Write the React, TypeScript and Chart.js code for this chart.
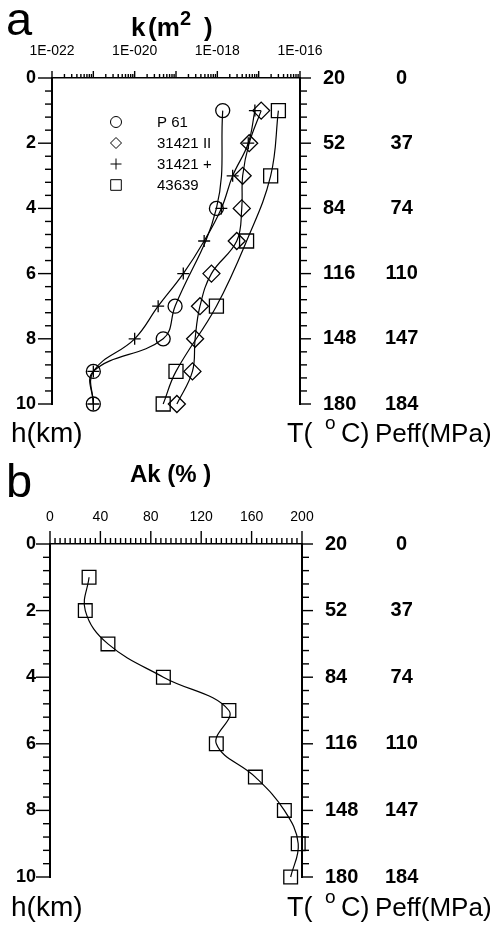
import React, { useEffect, useRef } from 'react';
import { Chart, registerables } from 'chart.js';

Chart.register(...registerables);

const FAMILY = '"Liberation Sans", Arial, Helvetica, sans-serif';

// ---------- panel a : permeability k (m^2) vs depth ----------
const depthP61 = [1, 4, 7, 8, 9, 10];
const kP61 = [1.35e-18, 9.5e-19, 9.5e-20, 4.9e-20, 1.0e-21, 1.0e-21];

const depth31421II = [1, 2, 3, 4, 5, 6, 7, 8, 9, 10];
const k31421II = [1.15e-17, 5.9e-18, 4.1e-18, 3.9e-18, 2.95e-18, 7.2e-19, 3.8e-19, 2.9e-19, 2.5e-19, 1.05e-19];

const depth31421Plus = [1, 2, 3, 4, 5, 6, 7, 8, 9, 10];
const k31421Plus = [8.1e-18, 5.6e-18, 2.35e-18, 1.25e-18, 4.8e-19, 1.5e-19, 3.7e-20, 1.0e-20, 1.0e-21, 1.0e-21];

const depth43639 = [1, 3, 5, 7, 9, 10];
const k43639 = [3.0e-17, 1.95e-17, 5.1e-18, 9.5e-19, 1.0e-19, 4.9e-20];

const seriesLabels = ['P 61', '31421 II', '31421 +', '43639'];

// ---------- panel b : Ak (%) vs depth ----------
const depthAk = [1, 2, 3, 4, 5, 6, 7, 8, 9, 10];
const akValues = [31, 28, 46, 90, 142, 132, 163, 186, 197, 191];

// ---------- axis tick labels ----------
const depthTicks = [0, 2, 4, 6, 8, 10];
const tempLabels = ['20', '52', '84', '116', '148', '180'];
const peffLabels = ['0', '37', '74', '110', '147', '184'];
const kDecades = [-22, -21, -20, -19, -18, -17, -16];
const kLabelDecades = [-22, -20, -18, -16];
const akMajorTicks = [0, 40, 80, 120, 160, 200];

const toPoints = (xs: number[], ys: number[]) => xs.map((x, i) => ({ x, y: ys[i] }));

const near = (a: number, b: number) => Math.abs(a - b) < 1e-6;
const isDepthMajor = (v: number) => depthTicks.some((d) => near(d, v));
const isDecade = (v: number) => {
  const l = Math.log10(v);
  return Math.abs(l - Math.round(l)) < 1e-6;
};

type TickSpec = { id: string; side: 'top' | 'left' | 'right'; major: (v: number) => boolean; majorLen: number; minorLen: number };

function tickPlugin(specs: TickSpec[]) {
  return {
    id: 'customTicks',
    afterDraw(chart: any) {
      const ctx = chart.ctx;
      ctx.save();
      ctx.strokeStyle = '#000';
      ctx.lineWidth = 1.4;
      for (const s of specs) {
        const scale = chart.scales[s.id];
        for (const t of scale.ticks) {
          const p = scale.getPixelForValue(t.value);
          const len = s.major(t.value) ? s.majorLen : s.minorLen;
          ctx.beginPath();
          if (s.side === 'top') {
            ctx.moveTo(p, scale.bottom);
            ctx.lineTo(p, scale.bottom - len);
          } else if (s.side === 'left') {
            ctx.moveTo(scale.right, p);
            ctx.lineTo(scale.right - len, p);
          } else {
            ctx.moveTo(scale.left, p);
            ctx.lineTo(scale.left + len, p);
          }
          ctx.stroke();
        }
      }
      ctx.restore();
    },
  };
}

type TextItem = { t: string; x: number; y: number; font: string };

function textPlugin(items: TextItem[]) {
  return {
    id: 'texts',
    afterDraw(chart: any) {
      const ctx = chart.ctx;
      ctx.save();
      ctx.fillStyle = '#000';
      ctx.textAlign = 'left';
      ctx.textBaseline = 'alphabetic';
      for (const it of items) {
        ctx.font = `${it.font} ${FAMILY}`;
        ctx.fillText(it.t, it.x, it.y);
      }
      ctx.restore();
    },
  };
}

function drawShape(ctx: CanvasRenderingContext2D, style: string, x: number, y: number, r: number) {
  ctx.beginPath();
  if (style === 'circle') {
    ctx.arc(x, y, r, 0, Math.PI * 2);
  } else if (style === 'rectRot') {
    ctx.moveTo(x - r, y);
    ctx.lineTo(x, y - r);
    ctx.lineTo(x + r, y);
    ctx.lineTo(x, y + r);
    ctx.closePath();
  } else if (style === 'cross') {
    ctx.moveTo(x - r, y);
    ctx.lineTo(x + r, y);
    ctx.moveTo(x, y - r);
    ctx.lineTo(x, y + r);
  } else {
    ctx.rect(x - r, y - r, 2 * r, 2 * r);
  }
  ctx.stroke();
}

const legendPlugin = {
  id: 'innerLegend',
  afterDraw(chart: any) {
    const ctx = chart.ctx as CanvasRenderingContext2D;
    const sizes: Record<string, number> = { circle: 5.5, rectRot: 5.5, cross: 5.5, rect: 5.3 };
    ctx.save();
    ctx.strokeStyle = '#000';
    ctx.fillStyle = '#000';
    ctx.lineWidth = 1;
    ctx.font = `15px ${FAMILY}`;
    ctx.textBaseline = 'middle';
    chart.data.datasets.forEach((ds: any, i: number) => {
      const y = 122 + i * 21;
      drawShape(ctx, ds.pointStyle, 116, y, sizes[ds.pointStyle] || 5);
      ctx.fillText(ds.label, 157, y + 1);
    });
    ctx.restore();
  },
};

const leftFont = { family: FAMILY, size: 18, weight: 'bold' as const };
const rightFont = { family: FAMILY, size: 20, weight: 'bold' as const };

function depthScales(leftW: number, tW: number, pW: number) {
  return {
    y: {
      type: 'linear' as const,
      position: 'left' as const,
      reverse: true,
      min: 0,
      max: 10,
      grid: { display: false, drawTicks: false },
      border: { display: true, color: '#000', width: 2 },
      ticks: {
        stepSize: 0.4,
        autoSkip: false,
        padding: leftW - 36,
        color: '#000',
        font: leftFont,
        callback: (v: any) => (isDepthMajor(Number(v)) ? String(Math.round(Number(v))) : ''),
      },
      afterFit: (s: any) => {
        s.width = leftW;
      },
    },
    yT: {
      type: 'linear' as const,
      position: 'right' as const,
      weight: 0,
      reverse: true,
      min: 0,
      max: 10,
      grid: { display: false, drawTicks: false },
      border: { display: true, color: '#000', width: 2 },
      ticks: {
        stepSize: 0.4,
        autoSkip: false,
        padding: 23,
        color: '#000',
        font: rightFont,
        callback: (v: any) => {
          const i = depthTicks.findIndex((d) => near(d, Number(v)));
          return i >= 0 ? tempLabels[i] : '';
        },
      },
      afterFit: (s: any) => {
        s.width = tW;
      },
    },
    yP: {
      type: 'linear' as const,
      position: 'right' as const,
      weight: 1,
      reverse: true,
      min: 0,
      max: 10,
      grid: { display: false, drawTicks: false },
      border: { display: false },
      ticks: {
        stepSize: 2,
        autoSkip: false,
        padding: 25,
        crossAlign: 'center' as const,
        color: '#000',
        font: rightFont,
        callback: (v: any) => {
          const i = depthTicks.findIndex((d) => near(d, Number(v)));
          return i >= 0 ? peffLabels[i] : '';
        },
      },
      afterFit: (s: any) => {
        s.width = pW;
      },
    },
  };
}

const lineCommon = {
  borderColor: '#000',
  borderWidth: 1.2,
  pointBorderColor: '#000',
  pointBackgroundColor: 'rgba(0,0,0,0)',
  pointBorderWidth: 1.3,
  tension: 0.4,
  fill: false,
  clip: false as any,
};

function bottomTexts(base: number): TextItem[] {
  return [
    { t: 'h(km)', x: 11, y: base, font: '28px' },
    { t: 'T(', x: 287, y: base, font: '27px' },
    { t: 'o', x: 325, y: base - 13, font: '19px' },
    { t: 'C)', x: 341, y: base, font: '27px' },
    { t: 'Peff(MPa)', x: 375, y: base, font: '26px' },
  ];
}

function PanelA() {
  const ref = useRef<HTMLCanvasElement>(null);
  useEffect(() => {
    if (!ref.current) return;
    const styles = ['circle', 'rectRot', 'cross', 'rect'];
    const radii = [7, 8.5, 6, 9.9];
    const xs = [kP61, k31421II, k31421Plus, k43639];
    const ys = [depthP61, depth31421II, depth31421Plus, depth43639];
    const chart = new Chart(ref.current, {
      type: 'line',
      data: {
        datasets: seriesLabels.map((label, i) => ({
          ...lineCommon,
          label,
          data: toPoints(xs[i], ys[i]),
          pointStyle: styles[i],
          pointRadius: radii[i],
          pointHoverRadius: radii[i],
        })) as any,
      },
      options: {
        animation: false,
        responsive: false,
        events: [],
        layout: { padding: { left: 0, right: 0, top: 0, bottom: 56 } },
        plugins: { legend: { display: false }, title: { display: false }, tooltip: { enabled: false } },
        scales: {
          x: {
            type: 'logarithmic',
            position: 'top',
            min: 1e-22,
            max: 1e-16,
            grid: { display: false, drawTicks: false },
            border: { display: true, color: '#000', width: 1.5 },
            ticks: {
              autoSkip: false,
              maxRotation: 0,
              minRotation: 0,
              padding: 18,
              color: '#000',
              font: { family: FAMILY, size: 14 },
              callback: (v: any) => {
                const val = Number(v);
                if (!isDecade(val)) return '';
                const e = Math.round(Math.log10(val));
                return kLabelDecades.includes(e) ? '1E-' + String(Math.abs(e)).padStart(3, '0') : '';
              },
            },
            afterBuildTicks: (s: any) => {
              const t: { value: number }[] = [];
              for (let i = 0; i < kDecades.length - 1; i++) {
                for (let m = 1; m <= 9; m++) t.push({ value: Number(`${m}e${kDecades[i]}`) });
              }
              t.push({ value: Number(`1e${kDecades[kDecades.length - 1]}`) });
              s.ticks = t;
            },
            afterFit: (s: any) => {
              s.height = 78;
            },
          },
          ...depthScales(52, 60, 137),
        } as any,
      },
      plugins: [
        tickPlugin([
          { id: 'x', side: 'top', major: isDecade, majorLen: 7, minorLen: 4 },
          { id: 'y', side: 'left', major: isDepthMajor, majorLen: 14, minorLen: 7 },
          { id: 'yT', side: 'right', major: isDepthMajor, majorLen: 11, minorLen: 7 },
        ]),
        legendPlugin,
        textPlugin([
          { t: 'a', x: 6, y: 35, font: '47px' },
          { t: 'k', x: 131, y: 36, font: 'bold 26px' },
          { t: '(m', x: 148, y: 36, font: 'bold 26px' },
          { t: '2', x: 180, y: 25, font: 'bold 20px' },
          { t: ')', x: 204, y: 36, font: 'bold 26px' },
          ...bottomTexts(442),
        ]),
      ],
    });
    return () => chart.destroy();
  }, []);
  return <canvas ref={ref} width={497} height={460} style={{ display: 'block', position: 'absolute', left: 0, top: 0 }} />;
}

function PanelB() {
  const ref = useRef<HTMLCanvasElement>(null);
  useEffect(() => {
    if (!ref.current) return;
    const chart = new Chart(ref.current, {
      type: 'line',
      data: {
        datasets: [
          {
            ...lineCommon,
            label: 'Ak',
            data: toPoints(akValues, depthAk),
            pointStyle: 'rect',
            pointRadius: 9.7,
            pointHoverRadius: 9.7,
          } as any,
        ],
      },
      options: {
        animation: false,
        responsive: false,
        events: [],
        layout: { padding: { left: 0, right: 0, top: 0, bottom: 51 } },
        plugins: { legend: { display: false }, title: { display: false }, tooltip: { enabled: false } },
        scales: {
          x: {
            type: 'linear',
            position: 'top',
            min: 0,
            max: 200,
            grid: { display: false, drawTicks: false },
            border: { display: true, color: '#000', width: 1.5 },
            ticks: {
              stepSize: 4,
              autoSkip: false,
              maxRotation: 0,
              minRotation: 0,
              padding: 18,
              color: '#000',
              font: { family: FAMILY, size: 14 },
              callback: (v: any) => {
                const val = Number(v);
                return akMajorTicks.some((m) => near(m, val)) ? String(Math.round(val)) : '';
              },
            },
            afterFit: (s: any) => {
              s.height = 104;
            },
          },
          ...depthScales(50, 58, 137),
        } as any,
      },
      plugins: [
        tickPlugin([
          { id: 'x', side: 'top', major: (v) => akMajorTicks.some((m) => near(m, v)), majorLen: 13, minorLen: 6 },
          { id: 'y', side: 'left', major: isDepthMajor, majorLen: 14, minorLen: 7 },
          { id: 'yT', side: 'right', major: isDepthMajor, majorLen: 11, minorLen: 7 },
        ]),
        textPlugin([
          { t: 'b', x: 6, y: 57, font: '47px' },
          { t: 'Ak (% )', x: 130, y: 42, font: 'bold 24px' },
          ...bottomTexts(476),
        ]),
      ],
    });
    return () => chart.destroy();
  }, []);
  return <canvas ref={ref} width={497} height={488} style={{ display: 'block', position: 'absolute', left: 0, top: 440 }} />;
}

export default function App() {
  return (
    <div style={{ position: 'absolute', left: 0, top: 0, width: 497, height: 928, background: '#fff', overflow: 'hidden' }}>
      <PanelA />
      <PanelB />
    </div>
  );
}
